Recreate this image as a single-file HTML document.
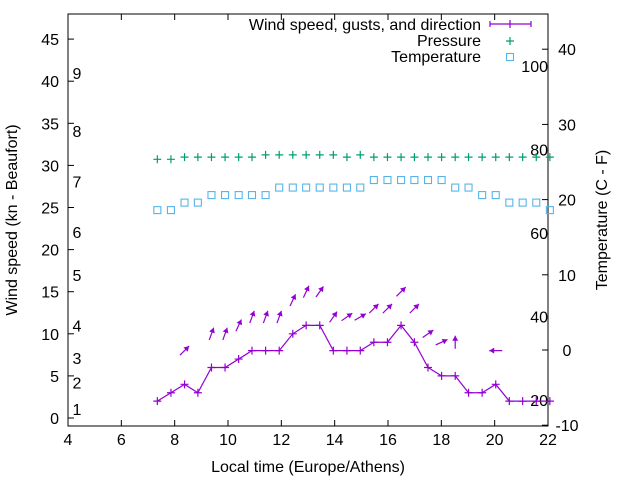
<!DOCTYPE html>
<html><head><meta charset="utf-8"><style>
body{margin:0;background:#fff}
svg{font-family:"Liberation Sans",sans-serif;font-size:16px}
</style></head><body>
<svg id="chart" width="640" height="480" viewBox="0 0 640 480" xmlns="http://www.w3.org/2000/svg"></svg>
<script>
const times=[7.35,7.86,8.37,8.87,9.38,9.89,10.40,10.90,11.41,11.92,12.43,12.93,13.44,13.95,14.46,14.96,15.47,15.98,16.49,16.99,17.50,18.01,18.52,19.02,19.53,20.04,20.55,21.05,21.56,22.07];
const wind=[2,3,4,3,6,6,7,8,8,8,10,11,11,8,8,8,9,9,11,9,6,5,5,3,3,4,2,2,2,2];
const arrowIdx=[2,4,5,6,7,8,9,10,11,12,13,14,15,16,17,18,19,20,21,22,25];
const gusts=[8,10,10,11,12,12,12,14,15,15,12,12,12,13,13,15,13,10,9,9,8];
const dirs=[45,70,70,65,70,70,70,65,65,55,55,35,30,45,45,45,45,35,25,90,180];
const pressure=[1012,1012,1013,1013,1013,1013,1013,1013,1014,1014,1014,1014,1014,1014,1013,1014,1013,1013,1013,1013,1013,1013,1013,1013,1013,1013,1013,1013,1013,1013];
const temperature=[18.6,18.6,19.6,19.6,20.6,20.6,20.6,20.6,20.6,21.6,21.6,21.6,21.6,21.6,21.6,21.6,22.6,22.6,22.6,22.6,22.6,22.6,21.6,21.6,20.6,20.6,19.6,19.6,19.6,18.6];
const xTicks=[4,6,8,10,12,14,16,18,20,22];
const yTicks=[0,5,10,15,20,25,30,35,40,45];
const y2Ticks=[-10,0,10,20,30,40];
const fLabels=[20,40,60,80,100];
const bftLabels=["1","2","3","4","5","6","7","8","9"];
const bftPos=[1.07,4.2,7.1,11.0,17.0,22.1,28.1,34.1,41.0];

const L=68,R=548,T=14,B=426;
const X=v=>L+(v-4)/18*(R-L);
const Y=v=>418-v*8.42;
const Y2=c=>350-c*7.52;
const YP=p=>159.3-(p-1012)*2.2;
const NS="http://www.w3.org/2000/svg";
const svg=document.getElementById('chart');
function mk(tag,attrs,parent){const e=document.createElementNS(NS,tag);for(const k in attrs)e.setAttribute(k,attrs[k]);(parent||svg).appendChild(e);return e;}

const border=mk('rect',{x:L,y:T,width:R-L,height:B-T,fill:'none',stroke:'#000','stroke-width':1});



xTicks.forEach(v=>{
  const x=X(v);
  const t=mk('line',{x1:x,x2:x,y1:B,y2:B-6,stroke:'#000'});
  
  
  const t2=mk('line',{x1:x,x2:x,y1:T,y2:T+6,stroke:'#000'});
  
  
  const l=mk('text',{x:x,y:B+19,'text-anchor':'middle'});l.textContent=v;
  
  
});
yTicks.forEach(v=>{
  const y=Y(v);
  const t=mk('line',{x1:L,x2:L+6,y1:y,y2:y,stroke:'#000'});
  
  
  const l=mk('text',{x:L-9,y:y+6,'text-anchor':'end'});l.textContent=v;
  
  
});
y2Ticks.forEach(v=>{
  const y=Y2(v);
  const t=mk('line',{x1:R,x2:R-6,y1:y,y2:y,stroke:'#000'});
  
  
  const l=mk('text',{x:R+19,y:y+6,'text-anchor':'middle'});l.textContent=v;
  
  
});
fLabels.forEach(f=>{
  const y=Y2((f-32)*5/9);
  const l=mk('text',{x:R,y:y+6,'text-anchor':'end'});l.textContent=f;
  
  
});
bftLabels.forEach((s,i)=>{
  const l=mk('text',{x:77,y:Y(bftPos[i])+6,'text-anchor':'middle'});l.textContent=s;
  
  
});

let t=mk('text',{x:308,y:472,'text-anchor':'middle'});t.textContent='Local time (Europe/Athens)';


t=mk('text',{x:0,y:0,'text-anchor':'middle',transform:'translate(17,220) rotate(-90)'});t.textContent='Wind speed (kn - Beaufort)';


t=mk('text',{x:0,y:0,'text-anchor':'middle',transform:'translate(607,220) rotate(-90)'});t.textContent='Temperature (C - F)';



const purple='#9400d3',green='#009e73',blue='#56b4e9';
pressure.forEach((p,i)=>{
  const x=X(times[i]),y=YP(p);
  const m=mk('path',{d:`M${x-4} ${y}H${x+4}M${x} ${y-4}V${y+4}`,stroke:green,'stroke-width':1.2});
  
  
});
temperature.forEach((c,i)=>{
  const x=X(times[i]),y=Y2(c);
  const m=mk('rect',{x:x-3.5,y:y-3.5,width:7,height:7,fill:'none',stroke:blue,'stroke-width':1.1});
  
  
});
const ln=mk('polyline',{points:wind.map((w,i)=>X(times[i])+','+Y(w)).join(' '),fill:'none',stroke:purple,'stroke-width':1.2});


wind.forEach((w,i)=>{
  const x=X(times[i]),y=Y(w);
  const m=mk('path',{d:`M${x-4} ${y}H${x+4}M${x} ${y-4}V${y+4}`,stroke:purple,'stroke-width':1.2});
  
  
});
arrowIdx.forEach((idx,k)=>{
  const cx=X(times[idx]),cy=Y(gusts[k]);
  const a=dirs[k]*Math.PI/180,len=13;
  const dx=Math.cos(a)*len/2,dy=-Math.sin(a)*len/2;
  const hx=cx+dx,hy=cy+dy;
  const g=mk('g',{});
  
  
  mk('line',{x1:cx-dx,y1:cy-dy,x2:hx,y2:hy,stroke:purple,'stroke-width':1.2},g);
  const ux=dx/(len/2),uy=dy/(len/2);
  const px=-uy,py=ux,hl=5,hw=3;
  mk('polygon',{points:`${hx},${hy} ${hx-ux*hl+px*hw},${hy-uy*hl+py*hw} ${hx-ux*hl-px*hw},${hy-uy*hl-py*hw}`,fill:purple},g);
});

const lg=mk('g',{});


const names=['Wind speed, gusts, and direction','Pressure','Temperature'];
const ly=[24,40,56];
names.forEach((n,i)=>{
  const tx=mk('text',{x:481,y:ly[i]+6,'text-anchor':'end'},lg);tx.textContent=n;
  
  
});
mk('path',{d:`M490 24H531M490 21V27M531 21V27M510 20V28`,stroke:purple,'stroke-width':1.2},lg);
mk('path',{d:`M506 41H514M510 37V45`,stroke:green,'stroke-width':1.2},lg);
mk('rect',{x:506.5,y:53.5,width:7,height:7,fill:'none',stroke:blue,'stroke-width':1.1},lg);
</script>
</body></html>
